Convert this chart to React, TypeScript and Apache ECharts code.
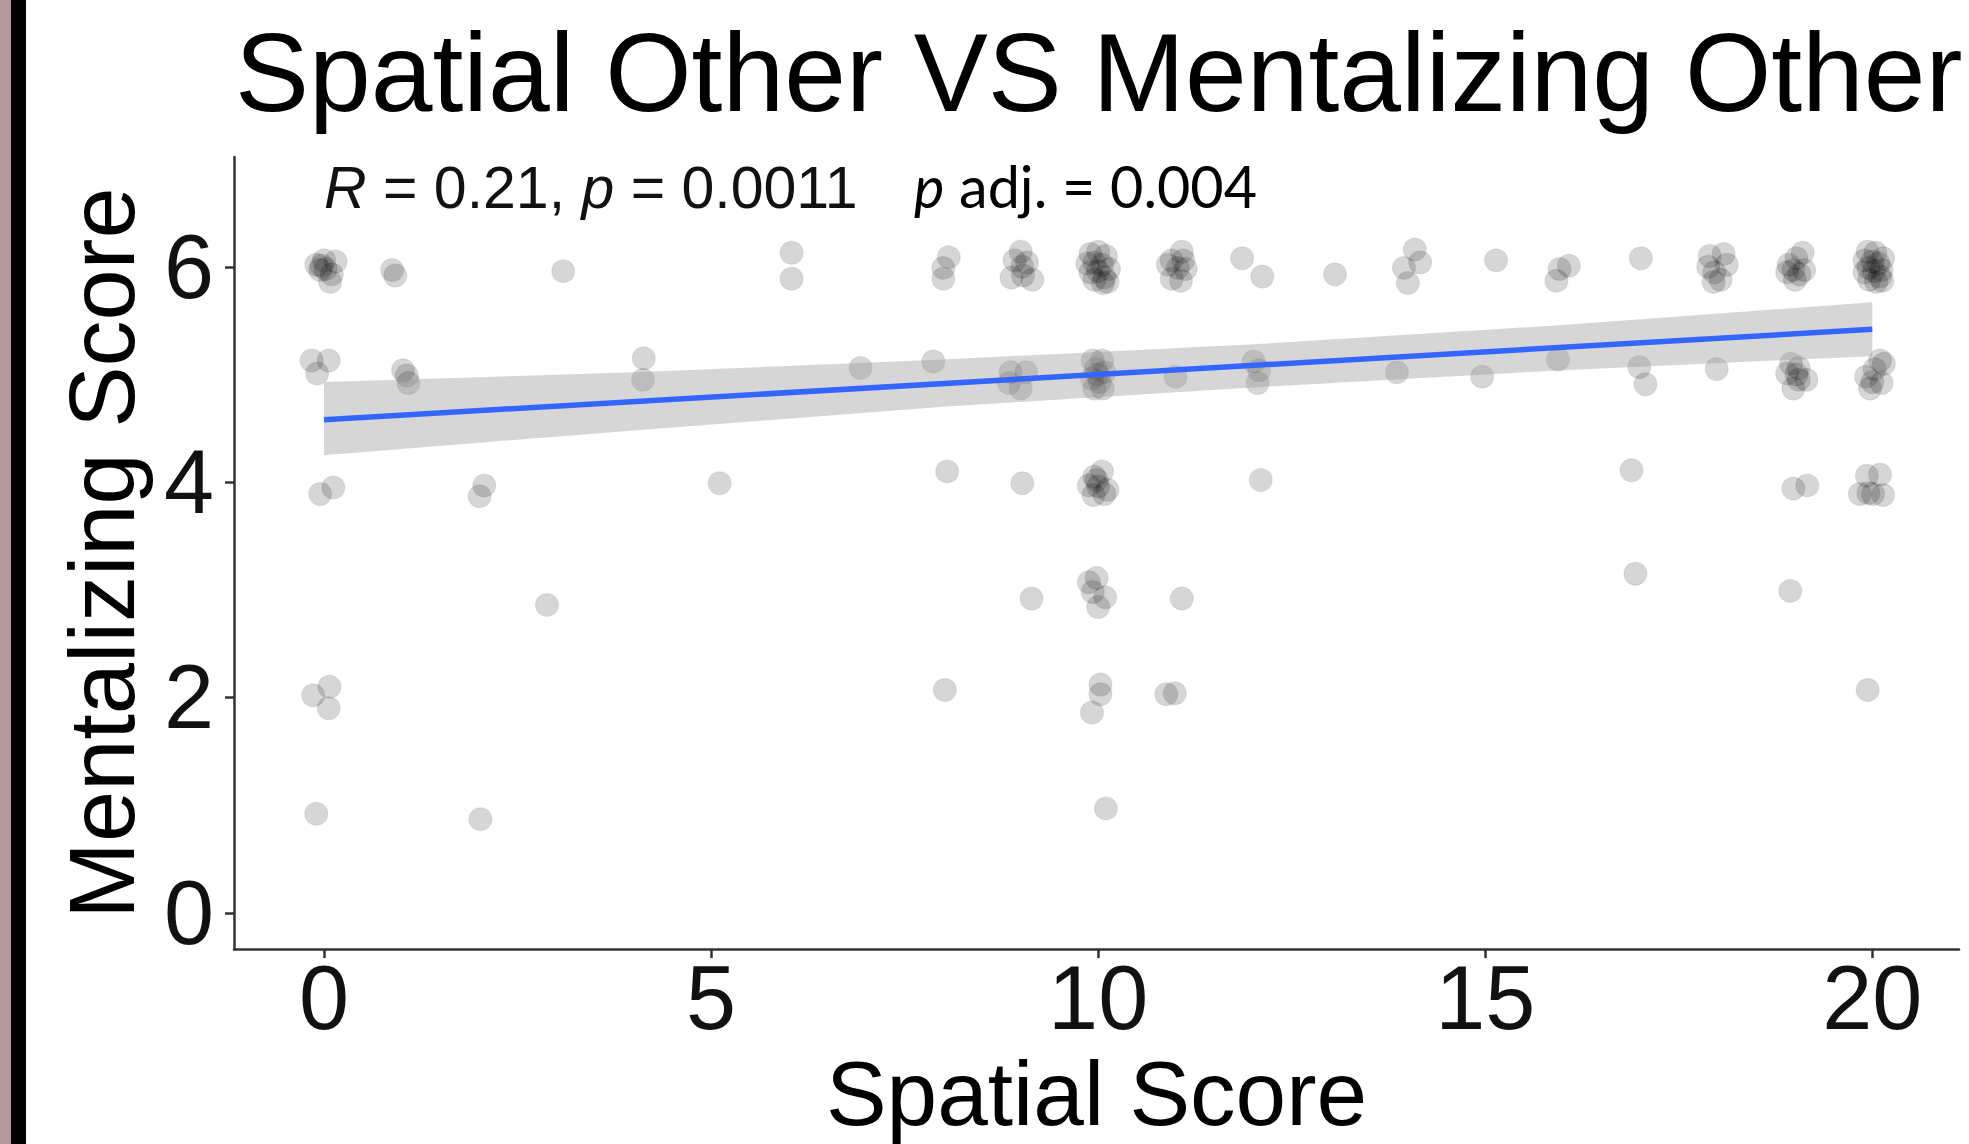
import React, { useEffect, useRef } from "react";
import * as echarts from "echarts";

const pointsX = [
  -0.10, 0.00, 0.15, 0.02, -0.05, 0.10, 0.08, -0.03,
  0.88, 0.92,
  -0.16, 0.06, -0.09,
  1.02, 1.07, 1.09,
  -0.05, 0.12,
  2.01, 2.07,
  5.11, 8.05, 9.02, 2.88, 9.14,
  -0.14, 0.07, 0.06,
  8.02, -0.10, 2.02, 12.10, 16.89,
  18.98, 19.16,
  19.93, 20.10, 19.84, 20.01, 20.14, 19.95,
  11.08, 16.94, 18.94,
  10.88, 10.99,
  19.94, 10.10,
  9.93, 10.05, 9.97, 10.08, 9.92, 10.02, 9.95, 10.06, 9.99,
  10.05, 9.95, 9.88, 10.12, 9.94, 10.00, 10.08, 9.98,
  9.88, 9.98, 10.09, 10.00, 9.93,
  10.03, 10.03, 9.92,
  9.00, 8.92, 9.02, 8.88, 9.08, 9.15, 9.03,
  9.90, 10.00, 10.10, 9.86, 9.95, 10.05, 10.14, 9.90, 10.00, 10.08, 9.95, 10.06, 10.12,
  11.08, 10.95, 11.10, 10.90, 11.03, 10.95, 11.07, 11.13,
  8.07, 8.00, 8.00,
  11.86, 12.12,
  13.06, 6.93, 7.87,
  8.87, 9.07, 8.85, 9.00,
  11.00,
  12.01, 12.08, 12.06,
  3.09,
  4.13, 4.12,
  6.04, 6.04,
  14.09, 14.16, 13.95, 14.00,
  15.14,
  15.92, 16.08, 15.96,
  17.01,
  17.90, 18.08, 17.88, 18.12, 17.96, 18.04, 17.95,
  19.10, 19.02, 18.92, 19.12, 18.98, 19.06, 18.90, 19.00,
  19.94, 20.04, 20.14, 19.90, 20.00, 20.08, 19.95, 20.12, 19.90, 20.02, 20.10, 19.96, 20.05, 20.13,
  13.86, 14.96, 15.94,
  16.99, 17.07,
  17.99,
  18.95, 19.05, 18.90, 19.15, 18.98, 19.05, 19.02,
  20.10, 20.15, 20.03, 19.92, 20.00, 20.12, 19.97,
];
const pointsY = [
  6.02, 6.06, 6.05, 5.98, 5.97, 5.93, 5.86, 6.01,
  5.97, 5.92,
  5.13, 5.13, 5.01,
  5.04, 4.99, 4.92,
  3.89, 3.95,
  3.87, 3.97,
  3.99, 4.10, 3.99, 2.86, 2.92,
  2.02, 2.10, 1.90,
  2.07, 0.92, 0.87, 4.02, 4.11,
  3.94, 3.97,
  4.06, 4.07, 3.89, 3.89, 3.88, 3.90,
  2.92, 3.15, 2.99,
  2.03, 2.04,
  2.07, 0.97,
  5.13, 5.13, 5.05, 5.02, 4.96, 4.93, 4.87, 4.87, 5.00,
  4.10, 4.05, 3.97, 3.93, 3.88, 3.96, 3.89, 4.02,
  3.07, 3.11, 2.93, 2.84, 2.98,
  2.12, 2.03, 1.86,
  6.14, 6.06, 6.00, 5.90, 6.04, 5.88, 5.92,
  6.12, 6.14, 6.10, 6.03, 6.04, 6.02, 5.98, 5.95, 5.96, 5.90, 5.88, 5.85, 5.86,
  6.14, 6.06, 6.06, 6.02, 5.99, 5.89, 5.87, 5.98,
  6.09, 5.99, 5.89,
  6.08, 5.91,
  5.93, 5.06, 5.12,
  5.02, 5.02, 4.92, 4.87,
  4.98,
  5.12, 5.04, 4.92,
  5.96,
  5.15, 4.95,
  6.13, 5.89,
  6.16, 6.04, 5.99, 5.85,
  6.06,
  5.87, 6.01, 5.98,
  6.08,
  6.10, 6.12, 6.00, 6.02, 5.95, 5.88, 5.86,
  6.13, 6.08, 6.02, 5.97, 5.97, 5.93, 5.95, 5.88,
  6.14, 6.13, 6.08, 6.06, 6.05, 6.03, 5.99, 5.97, 5.95, 5.96, 5.91, 5.88, 5.86, 5.87,
  5.02, 4.98, 5.14,
  5.07, 4.91,
  5.05,
  5.10, 5.06, 5.01, 4.95, 4.87, 4.95, 5.00,
  5.13, 5.10, 5.05, 4.98, 4.93, 4.92, 4.87,
];

// Linear fit and its confidence band
const fitX = [0, 20];
const fitY = [4.58, 5.42];
const bandX = [0, 4, 8, 12, 16, 20];
const bandUpper = [4.93, 5.02, 5.14, 5.28, 5.46, 5.67];
const bandLower = [4.25, 4.48, 4.70, 4.88, 5.04, 5.17];

const xTicks = [0, 5, 10, 15, 20];
const yTicks = [0, 2, 4, 6];

const TITLE = "Spatial Other VS Mentalizing Other";
const X_NAME = "Spatial Score";
const Y_NAME = "Mentalizing Score";

export default function App() {
  const ref = useRef<HTMLDivElement>(null);
  useEffect(() => {
    if (!ref.current) return;
    const chart = echarts.init(ref.current, null, { renderer: "svg" });
    const font = "'Liberation Sans', Arial, sans-serif";
    const scatterData = pointsX.map((x, i) => [x, pointsY[i]]);
    const lineData = fitX.map((x, i) => [x, fitY[i]]);
    chart.setOption({
      animation: false,
      backgroundColor: "#ffffff",
      title: {
        text: TITLE,
        left: 230,
        top: 12,
        textStyle: { fontSize: 111, fontFamily: font, fontWeight: "normal", color: "#000" },
      },
      grid: { left: 234, top: 157, width: 1725, height: 797, containLabel: false },
      xAxis: {
        type: "value",
        min: -1.163,
        max: 21.12,
        name: X_NAME,
        nameLocation: "middle",
        nameGap: 95,
        nameTextStyle: { fontSize: 91, fontFamily: font, color: "#000" },
        axisLine: { show: true, onZero: false, lineStyle: { color: "#333", width: 2.5 } },
        axisTick: { show: true, length: 9, customValues: xTicks, lineStyle: { color: "#333", width: 2.5 } },
        axisLabel: { customValues: xTicks, fontSize: 90, fontFamily: font, color: "#111", margin: 4 },
        splitLine: { show: false },
      },
      yAxis: {
        type: "value",
        min: -0.337,
        max: 7.02,
        name: Y_NAME,
        nameLocation: "middle",
        nameRotate: 90,
        nameGap: 86,
        nameTextStyle: { fontSize: 92, fontFamily: font, color: "#000" },
        axisLine: { show: true, onZero: false, lineStyle: { color: "#333", width: 2.5 } },
        axisTick: { show: true, length: 9, customValues: yTicks, lineStyle: { color: "#333", width: 2.5 } },
        axisLabel: { customValues: yTicks, fontSize: 90, fontFamily: font, color: "#111", margin: 20 },
        splitLine: { show: false },
      },
      graphic: [
        { type: "rect", shape: { x: 0, y: 0, width: 11, height: 1144 }, style: { fill: "#b5989a" }, silent: true },
        { type: "rect", shape: { x: 11, y: 0, width: 15, height: 1144 }, style: { fill: "#000" }, silent: true },
        {
          type: "text",
          x: 324,
          y: 188,
          style: {
            text: "{i|R} = 0.21, {i|p} = 0.0011",
            font: `59px ${font}`,
            fill: "#111",
            verticalAlign: "middle",
            rich: { i: { fontStyle: "italic", fontSize: 59, fontFamily: font, fill: "#111" } },
          },
        },
        {
          type: "text",
          x: 914,
          y: 185,
          style: {
            text: "{i|p} adj. = 0.004",
            font: `57.5px Lato, sans-serif`,
            fill: "#000",
            verticalAlign: "middle",
            rich: { i: { fontStyle: "italic", fontSize: 57.5, fontFamily: "Lato, sans-serif", fill: "#000" } },
          },
        },
      ],
      series: [
        {
          type: "scatter",
          data: scatterData,
          symbol: "circle",
          symbolSize: 23,
          itemStyle: { color: "rgba(0,0,0,0.2)", borderColor: "rgba(0,0,0,0.1)", borderWidth: 1.2 },
          z: 2,
        },
        {
          type: "custom",
          data: [[bandX[0], bandLower[0]]],
          z: 3,
          renderItem: (params: any, api: any) => {
            const pts: number[][] = [];
            for (let i = 0; i < bandX.length; i++) pts.push(api.coord([bandX[i], bandUpper[i]]));
            for (let i = bandX.length - 1; i >= 0; i--) pts.push(api.coord([bandX[i], bandLower[i]]));
            return { type: "polygon", shape: { points: pts }, style: { fill: "rgba(153,153,153,0.4)" } };
          },
        },
        {
          type: "line",
          data: lineData,
          symbol: "none",
          lineStyle: { color: "#3366FF", width: 5.5 },
          z: 4,
        },
      ],
    });
    return () => chart.dispose();
  }, []);
  return (
    <div
      ref={ref}
      style={{ position: "absolute", left: 0, top: 0, width: 1969, height: 1144, background: "#fff" }}
    />
  );
}
